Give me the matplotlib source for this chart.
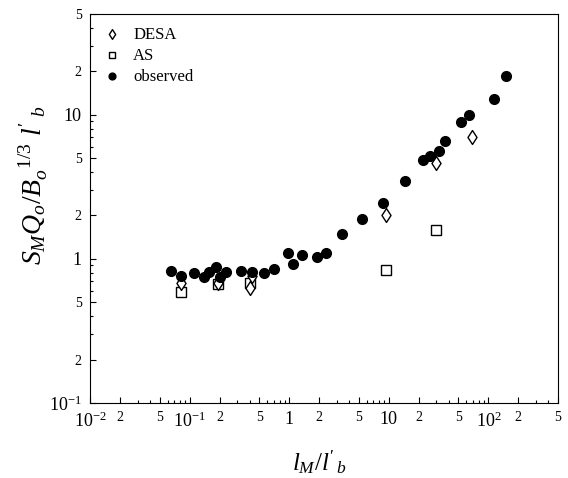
import matplotlib
matplotlib.use("Agg")
import matplotlib.pyplot as plt
from matplotlib.path import Path
from matplotlib.ticker import LogLocator, FixedLocator, FixedFormatter, NullFormatter

plt.rcParams['font.family'] = ['Liberation Serif', 'DejaVu Serif']
plt.rcParams['mathtext.fontset'] = 'custom'
plt.rcParams['mathtext.rm'] = 'Liberation Serif'
plt.rcParams['mathtext.it'] = 'Liberation Serif:italic'

# data
obs_x = [0.0648, 0.0828, 0.110, 0.140, 0.158, 0.184, 0.202, 0.234, 0.329, 0.421,
         0.559, 0.699, 0.979, 1.08, 1.353, 1.913, 2.355, 3.41, 5.41, 8.79,
         14.5, 22.3, 25.8, 32.0, 36.8, 52.5, 64.0, 113, 149]
obs_y = [0.825, 0.762, 0.796, 0.754, 0.812, 0.884, 0.754, 0.812, 0.821, 0.809,
         0.804, 0.852, 1.096, 0.918, 1.066, 1.027, 1.101, 1.484, 1.905, 2.46,
         3.48, 4.82, 5.19, 5.56, 6.53, 8.84, 9.89, 12.85, 18.45]
desa_x = [0.0828, 0.192, 0.421, 0.405, 9.29, 29.5, 68.2]
desa_y = [0.685, 0.678, 0.762, 0.626, 2.02, 4.62, 6.96]
as_x = [0.0828, 0.192, 0.405, 9.29, 29.5]
as_y = [0.587, 0.670, 0.685, 0.839, 1.59]

x_ticks = [0.01, 0.02, 0.05, 0.1, 0.2, 0.5, 1, 2, 5, 10, 20, 50, 100, 200, 500]
x_labels = ['$10^{-2}$', '2', '5', '$10^{-1}$', '2', '5', '1', '2', '5', '10', '2', '5', '$10^{2}$', '2', '5']
y_ticks = [0.1, 0.2, 0.5, 1, 2, 5, 10, 20, 50]
y_labels = ['$10^{-1}$', '2', '5', '1', '2', '5', '10', '2', '5']

diamond = Path([(0, 1), (0.65, 0), (0, -1), (-0.65, 0), (0, 1)],
               [Path.MOVETO, Path.LINETO, Path.LINETO, Path.LINETO, Path.CLOSEPOLY])

fig = plt.figure(figsize=(5.68, 4.78), dpi=100)
ax = fig.add_axes([90/568, 1-403/478, (558-90)/568, (403-14)/478])
ax.set_xscale('log')
ax.set_yscale('log')
ax.set_xlim(0.01, 500)
ax.set_ylim(0.1, 50)

ax.plot(desa_x, desa_y, linestyle='none', marker=diamond, markersize=10, markerfacecolor='white',
        markeredgecolor='black', markeredgewidth=1.0, label='DESA', zorder=3)
ax.plot(as_x, as_y, linestyle='none', marker='s', markersize=6.5, markerfacecolor='white',
        markeredgecolor='black', markeredgewidth=1.0, label='AS', zorder=2)
ax.plot(obs_x, obs_y, linestyle='none', marker='o', markersize=7, color='black',
        label='observed', zorder=4)

ax.xaxis.set_major_locator(FixedLocator(x_ticks))
ax.xaxis.set_major_formatter(FixedFormatter(x_labels))
ax.xaxis.set_minor_locator(LogLocator(base=10, subs=[3, 4, 6, 7, 8, 9], numticks=20))
ax.xaxis.set_minor_formatter(NullFormatter())
ax.yaxis.set_major_locator(FixedLocator(y_ticks))
ax.yaxis.set_major_formatter(FixedFormatter(y_labels))
ax.yaxis.set_minor_locator(LogLocator(base=10, subs=[3, 4, 6, 7, 8, 9], numticks=20))
ax.yaxis.set_minor_formatter(NullFormatter())

ax.tick_params(which='both', direction='in', top=False, right=False, width=0.8)
ax.tick_params(which='major', length=4, labelsize=13, pad=6)
ax.tick_params(which='minor', length=2.5)
for lbl in ax.get_xticklabels() + ax.get_yticklabels():
    if lbl.get_text() in ('2', '5'):
        lbl.set_fontsize(10)
for sp in ax.spines.values():
    sp.set_linewidth(0.8)

ax.set_xlabel(r"$l_M/l'_{\,b}$", fontsize=18)
ax.set_ylabel(r"$S_MQ_o/B_o^{\ \ 1/3}\ l'_{\ b}$", fontsize=20)
ax.xaxis.set_label_coords(0.49, -0.115)
ax.yaxis.set_label_coords(-0.085, 0.56)

leg = ax.legend(loc='upper left', frameon=False, fontsize=12, handletextpad=0.8,
                borderaxespad=0.4, labelspacing=0.3, handlelength=1.0, markerscale=0.7)

fig.savefig('out.png', dpi=100)
